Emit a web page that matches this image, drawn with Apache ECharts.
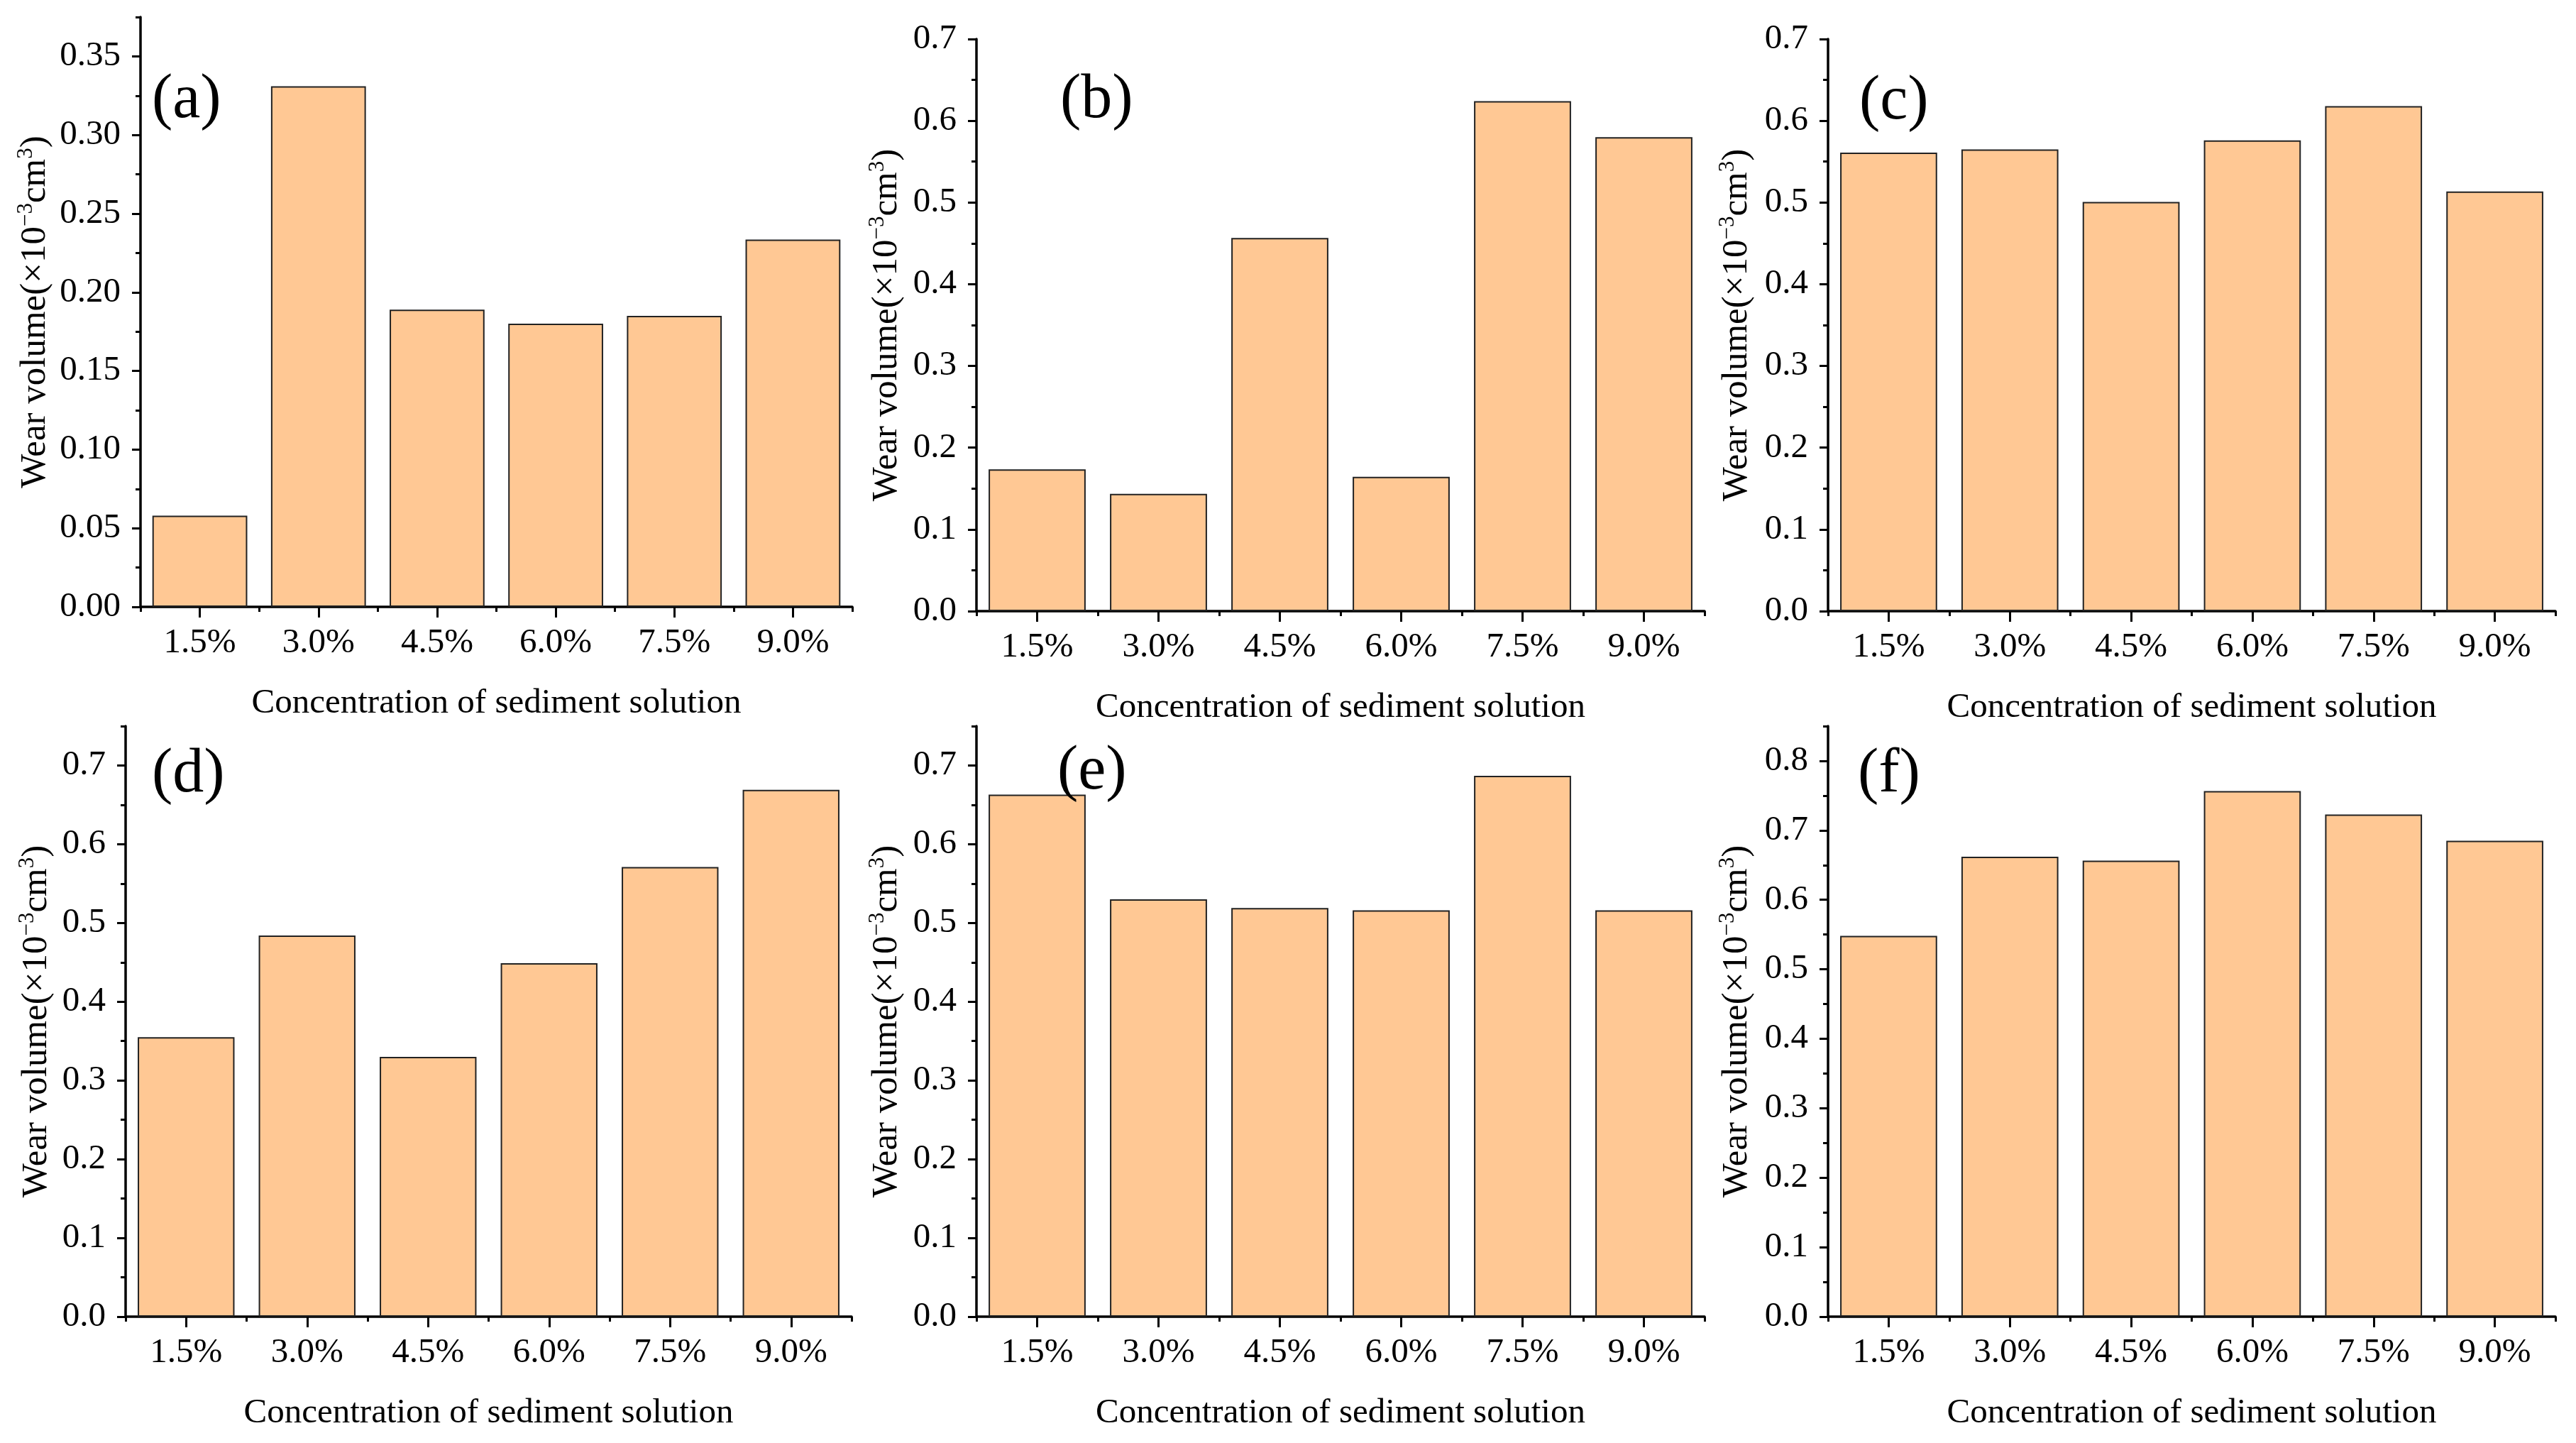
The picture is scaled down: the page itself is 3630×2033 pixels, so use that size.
<!DOCTYPE html>
<html>
<head>
<meta charset="utf-8">
<script src="https://cdn.jsdelivr.net/npm/echarts@6/dist/echarts.min.js"></script>
<style>
html,body{margin:0;padding:0;background:#fff;}
#main{width:3630px;height:2033px;}
</style>
</head>
<body>
<div id="main"></div>
<script>
// ---- data ----
const categories = ['1.5%', '3.0%', '4.5%', '6.0%', '7.5%', '9.0%'];
const wearA = [0.058, 0.331, 0.189, 0.180, 0.185, 0.2335];
const wearB = [0.1735, 0.1436, 0.4567, 0.1644, 0.624, 0.580];
const wearC = [0.561, 0.565, 0.5006, 0.576, 0.618, 0.5136];
const wearD = [0.355, 0.484, 0.330, 0.449, 0.571, 0.669];
const wearE = [0.663, 0.530, 0.519, 0.516, 0.687, 0.516];
const wearF = [0.548, 0.662, 0.6565, 0.7565, 0.7227, 0.685];
const panelLabels = ['(a)', '(b)', '(c)', '(d)', '(e)', '(f)'];

// y-axis tick values
const majorA = [0, 0.05, 0.10, 0.15, 0.20, 0.25, 0.30, 0.35];
const minorA = [0.025, 0.075, 0.125, 0.175, 0.225, 0.275, 0.325, 0.375];
const major07 = [0, 0.1, 0.2, 0.3, 0.4, 0.5, 0.6, 0.7];
const minor07 = [0.05, 0.15, 0.25, 0.35, 0.45, 0.55, 0.65];
const minor075 = [0.05, 0.15, 0.25, 0.35, 0.45, 0.55, 0.65, 0.75];
const major08 = [0, 0.1, 0.2, 0.3, 0.4, 0.5, 0.6, 0.7, 0.8];
const minor085 = [0.05, 0.15, 0.25, 0.35, 0.45, 0.55, 0.65, 0.75, 0.85];
const yMax = [0.375, 0.7, 0.7, 0.75, 0.75, 0.85];
const xName = 'Concentration of sediment solution';

// ---- layout / style ----
const FONT = 'Liberation Serif';
const panels = [
  {data: wearA, major: majorA, minor: minorA, dec: 2, gap: 119, grid: {left: 198, top: 24, width: 1003, height: 831}, lab: {left: 214, top: 98}},
  {data: wearB, major: major07, minor: minor07, dec: 1, gap: 97, grid: {left: 1376, top: 55, width: 1026, height: 806}, lab: {left: 1494, top: 98}},
  {data: wearC, major: major07, minor: minor07, dec: 1, gap: 99, grid: {left: 2576, top: 55, width: 1025, height: 806}, lab: {left: 2620, top: 100}},
  {data: wearD, major: major07, minor: minor075, dec: 1, gap: 96, grid: {left: 177, top: 1023, width: 1023, height: 832}, lab: {left: 214, top: 1048}},
  {data: wearE, major: major07, minor: minor075, dec: 1, gap: 97, grid: {left: 1376, top: 1023, width: 1026, height: 832}, lab: {left: 1490, top: 1044}},
  {data: wearF, major: major08, minor: minor085, dec: 1, gap: 99, grid: {left: 2576, top: 1023, width: 1025, height: 832}, lab: {left: 2618, top: 1048}}
];

const grids = [], xAxes = [], yAxes = [], series = [], titles = [];
panels.forEach((p, i) => {
  grids.push(Object.assign({containLabel: false}, p.grid));
  titles.push({text: panelLabels[i], left: p.lab.left, top: p.lab.top, padding: 0,
    textStyle: {fontFamily: FONT, fontSize: 88, fontWeight: 'normal', color: '#000'}});
  // main category axis: labels + major ticks at centres
  xAxes.push({
    type: 'category', gridIndex: i, data: categories, position: 'bottom',
    axisLine: {show: true, lineStyle: {color: '#000', width: 3.5}},
    axisTick: {show: true, alignWithLabel: true, length: 15, lineStyle: {color: '#000', width: 3}},
    axisLabel: {show: true, margin: 27, fontFamily: FONT, fontSize: 49, color: '#000'},
    splitLine: {show: false},
    name: xName, nameLocation: 'middle', nameGap: 112,
    nameTextStyle: {fontFamily: FONT, fontSize: 49, color: '#000'}
  });
  // secondary category axis: minor ticks at boundaries
  xAxes.push({
    type: 'category', gridIndex: i, data: categories, position: 'bottom',
    axisLine: {show: false},
    axisTick: {show: true, alignWithLabel: false, length: 7, lineStyle: {color: '#000', width: 3}},
    axisLabel: {show: false}, splitLine: {show: false}
  });
  yAxes.push({
    type: 'value', gridIndex: i, min: 0, max: yMax[i], position: 'left',
    axisLine: {show: true, lineStyle: {color: '#000', width: 3.5}},
    axisTick: {show: true, customValues: p.major, length: 12, lineStyle: {color: '#000', width: 3}},
    axisLabel: {show: true, customValues: p.major, margin: 28, fontFamily: FONT, fontSize: 49, color: '#000',
      formatter: v => Number(v).toFixed(p.dec)},
    splitLine: {show: false},
    name: '{n|Wear volume(×10}{s|−3}{n|cm}{s|3}{n|)}',
    nameLocation: 'middle', nameRotate: 90, nameGap: p.gap,
    nameTextStyle: {fontFamily: FONT, color: '#000',
      rich: {
        n: {fontFamily: FONT, fontSize: 51, color: '#000', lineHeight: 58},
        s: {fontFamily: FONT, fontSize: 31, color: '#000', lineHeight: 30, verticalAlign: 'top'}
      }}
  });
  yAxes.push({
    type: 'value', gridIndex: i, min: 0, max: yMax[i], position: 'left',
    axisLine: {show: false},
    axisTick: {show: true, customValues: p.minor, length: 7, lineStyle: {color: '#000', width: 3}},
    axisLabel: {show: false}, splitLine: {show: false}
  });
  series.push({
    type: 'bar', xAxisIndex: 2 * i, yAxisIndex: 2 * i, data: p.data,
    barCategoryGap: '20%',
    itemStyle: {color: '#FFC894', borderColor: '#222', borderWidth: 2},
    silent: true
  });
});

const chart = echarts.init(document.getElementById('main'), null, {renderer: 'canvas'});
chart.setOption({
  backgroundColor: '#fff',
  animation: false,
  title: titles,
  grid: grids,
  xAxis: xAxes,
  yAxis: yAxes,
  series: series
});
</script>
</body>
</html>
